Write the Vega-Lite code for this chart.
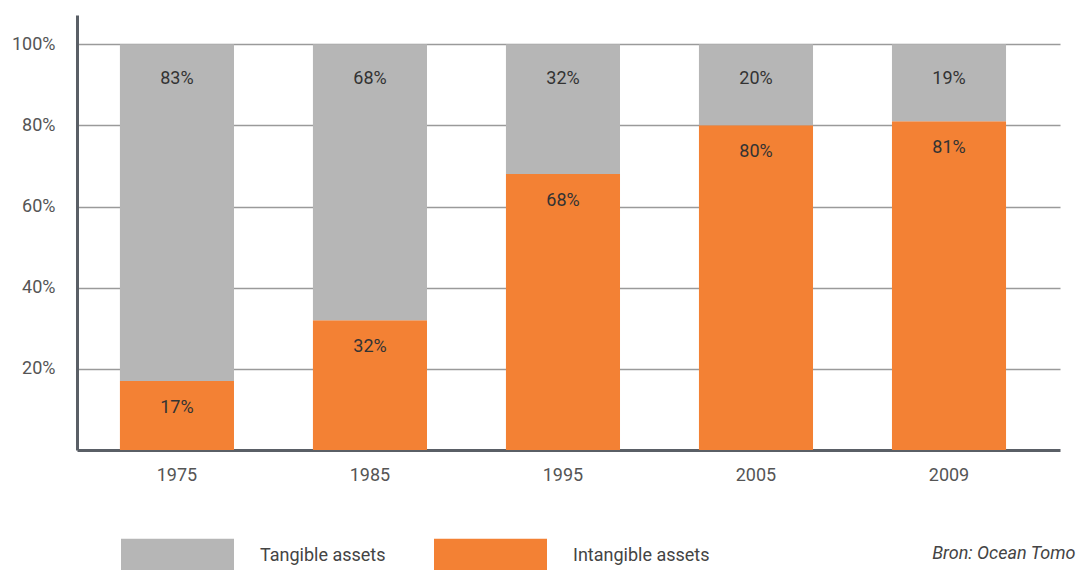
{
  "$schema": "https://vega.github.io/schema/vega-lite/v6.json",
  "autosize": {"type": "none"},
  "width": 983,
  "height": 435,
  "padding": {"left": 77, "top": 15, "right": 18, "bottom": 120},
  "background": "white",
  "config": {
    "font": "Roboto",
    "view": {"stroke": null}
  },
  "data": {
    "values": [
      {"year": "1975", "type": "Intangible assets", "value": 0.17},
      {"year": "1975", "type": "Tangible assets", "value": 0.83},
      {"year": "1985", "type": "Intangible assets", "value": 0.32},
      {"year": "1985", "type": "Tangible assets", "value": 0.68},
      {"year": "1995", "type": "Intangible assets", "value": 0.68},
      {"year": "1995", "type": "Tangible assets", "value": 0.32},
      {"year": "2005", "type": "Intangible assets", "value": 0.80},
      {"year": "2005", "type": "Tangible assets", "value": 0.20},
      {"year": "2009", "type": "Intangible assets", "value": 0.81},
      {"year": "2009", "type": "Tangible assets", "value": 0.19}
    ]
  },
  "encoding": {
    "x": {
      "field": "year",
      "type": "nominal",
      "scale": {"paddingInner": 0.409, "paddingOuter": 0.251, "align": 0.443},
      "axis": {
        "title": "Bron: Ocean Tomo",
        "titleFont": "Roboto",
        "titleFontStyle": "italic",
        "titleFontWeight": "normal",
        "titleFontSize": 18,
        "titleColor": "#444",
        "titleAnchor": "end",
        "titleAlign": "right",
        "titleX": 998,
        "titlePadding": 60,
        "labelAngle": 0,
        "ticks": false,
        "labelFontSize": 18,
        "labelColor": "#555",
        "labelPadding": 16,
        "domainColor": "#5a5f66",
        "domainWidth": 3
      }
    }
  },
  "layer": [
    {
      "mark": {"type": "bar"},
      "encoding": {
        "y": {
          "field": "value",
          "type": "quantitative",
          "stack": "zero",
          "scale": {"domain": [0, 1.072], "nice": false},
          "axis": {
            "title": null,
            "values": [0.2, 0.4, 0.6, 0.8, 1.0],
            "format": ".0%",
            "ticks": false,
            "labelFontSize": 18,
            "labelColor": "#555",
            "labelPadding": 22,
            "domainColor": "#5a5f66",
            "domainWidth": 3,
            "grid": true,
            "gridColor": "#9a9a9a",
            "gridWidth": 1.5
          }
        },
        "color": {
          "field": "type",
          "type": "nominal",
          "scale": {
            "domain": ["Tangible assets", "Intangible assets"],
            "range": ["#b6b6b6", "#f38134"]
          },
          "legend": {
            "title": null,
            "orient": "none",
            "direction": "horizontal",
            "legendX": 44,
            "legendY": 484,
            "symbolType": "M-1,-0.3009H1V0.3009H-1Z",
            "symbolSize": 12769,
            "symbolStrokeWidth": 0,
            "symbolOpacity": 1,
            "labelFontSize": 18,
            "labelColor": "#444",
            "labelOffset": 26,
            "columnPadding": 48
          }
        },
        "order": {"field": "type", "sort": "ascending"}
      }
    },
    {
      "transform": [{"filter": "datum.type === 'Intangible assets'"}],
      "mark": {"type": "text", "baseline": "middle", "dy": 27, "fontSize": 18, "color": "#333"},
      "encoding": {
        "y": {"field": "value", "type": "quantitative"},
        "text": {"field": "value", "type": "quantitative", "format": ".0%"}
      }
    },
    {
      "transform": [
        {"joinaggregate": [{"op": "sum", "field": "value", "as": "total"}], "groupby": ["year"]},
        {"filter": "datum.type === 'Tangible assets'"}
      ],
      "mark": {"type": "text", "baseline": "middle", "dy": 35, "fontSize": 18, "color": "#333"},
      "encoding": {
        "y": {"field": "total", "type": "quantitative"},
        "text": {"field": "value", "type": "quantitative", "format": ".0%"}
      }
    }
  ]
}
